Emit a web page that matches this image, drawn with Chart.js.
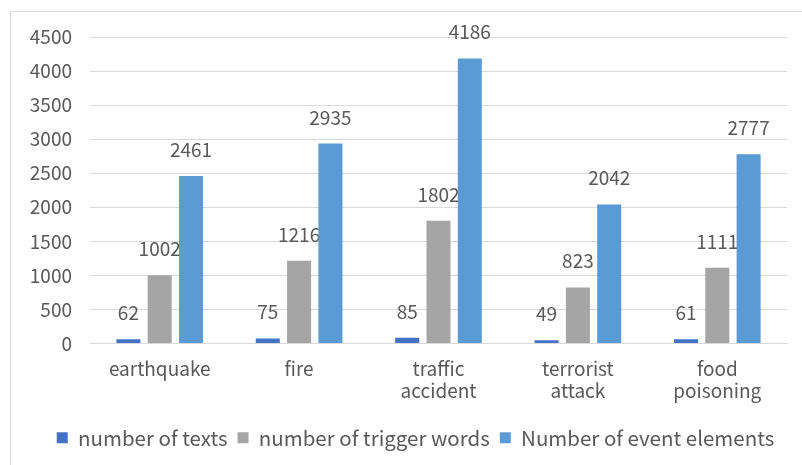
<!DOCTYPE html>
<html>
<head>
<meta charset="utf-8">
<script src="https://cdn.jsdelivr.net/npm/chart.js@4/dist/chart.umd.min.js"></script>
<style>
  html, body { margin: 0; padding: 0; background: #fff; overflow: hidden; }
  #frame { position: absolute; left: 10px; top: 11px; width: 820px; height: 480px; border: 1px solid #d9d9d9; }
  #wrap { position: absolute; left: 0; top: 0; width: 802px; height: 465px; }
</style>
</head>
<body>
<div id="frame"></div>
<div id="wrap"><canvas id="mainChart" width="802" height="465"></canvas></div>
<script>
const categories = [['earthquake'], ['fire'], ['traffic', 'accident'], ['terrorist', 'attack'], ['food', 'poisoning']];
const seriesNames = ['number of texts', 'number of trigger words', 'Number of event elements'];
const textCounts = [62, 75, 85, 49, 61];
const triggerCounts = [1002, 1216, 1802, 823, 1111];
const elementCounts = [2461, 2935, 4186, 2042, 2777];
const seriesColors = ['#4472C4', '#A5A5A5', '#5B9BD5'];
const yTicks = [0, 500, 1000, 1500, 2000, 2500, 3000, 3500, 4000, 4500];

const FONT = "'Noto Sans CJK SC', 'Noto Sans', sans-serif";
const TEXT = '#595959';

// 막대 위 값 표시 (뒤 시리즈 막대가 덮도록 먼저 그림)
const valueLabels = {
    id: 'valueLabels',
    beforeDatasetsDraw(chart) {
        const ctx = chart.ctx;
        ctx.save();
        ctx.font = '19px ' + FONT;
        ctx.fillStyle = TEXT;
        ctx.textAlign = 'center';
        ctx.textBaseline = 'alphabetic';
        chart.data.datasets.forEach((ds, i) => {
            const meta = chart.getDatasetMeta(i);
            meta.data.forEach((bar, j) => {
                ctx.fillText(String(ds.data[j]), bar.x, bar.y - 19);
            });
        });
        ctx.restore();
    }
};

// 범례를 차트 영역 쪽으로 약간 이동
const legendShift = {
    id: 'legendShift',
    afterLayout(chart) {
        if (chart.legend) chart.legend.left += 44;
    }
};

const datasets = [textCounts, triggerCounts, elementCounts].map((values, i) => ({
    label: seriesNames[i],
    data: values,
    backgroundColor: seriesColors[i],
    borderWidth: 0,
    categoryPercentage: 0.674,
    barPercentage: 0.767,
}));

new Chart(document.getElementById('mainChart').getContext('2d'), {
    type: 'bar',
    data: { labels: categories, datasets },
    plugins: [valueLabels, legendShift],
    options: {
        responsive: false,
        animation: false,
        layout: { padding: { left: 0, right: 15, top: 37, bottom: 7 } },
        plugins: {
            tooltip: { enabled: false },
            legend: {
                position: 'bottom',
                labels: {
                    color: TEXT,
                    font: { family: FONT, size: 20.5 },
                    boxWidth: 11,
                    boxHeight: 11,
                    padding: 10,
                },
            },
        },
        scales: {
            x: {
                grid: { display: false },
                border: { display: true, color: '#d9d9d9' },
                ticks: {
                    color: TEXT,
                    font: { family: FONT, size: 19, lineHeight: 1.16 },
                    padding: 6,
                    maxRotation: 0,
                    autoSkip: false,
                },
                afterFit: (scale) => { scale.height = 74; },
            },
            y: {
                min: 0,
                max: 4500,
                afterBuildTicks: (scale) => { scale.ticks = yTicks.map(v => ({ value: v })); },
                grid: { color: '#d9d9d9', drawTicks: false },
                border: { display: false },
                ticks: {
                    color: TEXT,
                    font: { family: FONT, size: 19 },
                    padding: 18,
                    callback: (v) => String(v),
                },
                afterFit: (scale) => { scale.width = 90; },
            },
        },
    },
});
</script>
</body>
</html>
